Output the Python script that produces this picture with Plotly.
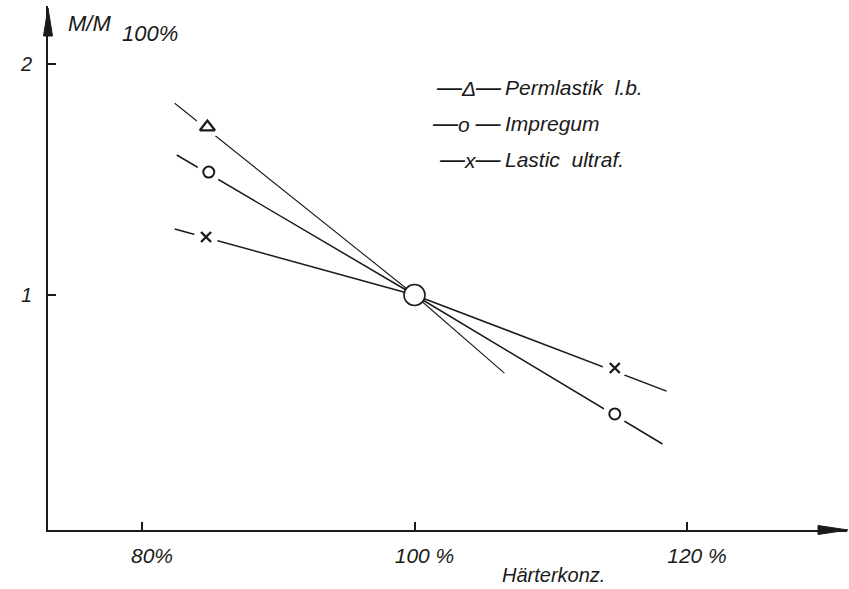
import plotly.graph_objects as go

# --- data -------------------------------------------------------------
# relative modulus M/M100% versus hardener concentration (% of nominal)
perm_x = [82.4, 100.0, 106.6]
perm_y = [1.83, 1.00, 0.662]
perm_mx = [84.8]
perm_my = [1.727]

impr_x = [82.55, 100.0, 118.2]
impr_y = [1.606, 1.00, 0.355]
impr_mx = [84.9, 114.7]
impr_my = [1.532, 0.485]

last_x = [82.4, 100.0, 118.5]
last_y = [1.286, 1.00, 0.584]
last_mx = [84.7, 114.7]
last_my = [1.251, 0.684]

ref_x = [100.0]
ref_y = [1.0]

x_ticks = [80, 100, 120]
x_tick_text = ["80%", "100 %", "120 %"]
y_ticks = [1, 2]
y_tick_text = ["1", "2"]

legend_symbols = ["Δ", "o ", "x"]
legend_names = ["Permlastik  l.b.", "Impregum", "Lastic  ultraf."]

# --- layout geometry ----------------------------------------------------
W, H = 849, 589
L, R, T, B = 48, 2, 6, 59
pw, ph = W - L - R, H - T - B
x_per_px = 20.0 / 272.5          # % per pixel
y_per_px = 1.0 / 231.0           # units per pixel
x_lo = 80 - (142 - L) * x_per_px
x_hi = x_lo + pw * x_per_px
y_lo = 1 - (H - B - 295) * y_per_px
y_hi = y_lo + ph * y_per_px

INK = "#1a1a1a"
FONT = dict(family="Liberation Sans, DejaVu Sans, sans-serif", color=INK, style="italic")


def fx(px):
    return (px - L) / pw


def fy(py):
    return (H - B - py) / ph


fig = go.Figure()

# lines
for xs, ys, w in [(perm_x, perm_y, 1.1), (impr_x, impr_y, 1.5), (last_x, last_y, 1.5)]:
    fig.add_trace(go.Scatter(x=xs, y=ys, mode="lines",
                             line=dict(color=INK, width=w), hoverinfo="skip"))

# white halos leave a gap in the line around each marker
for mx, my in [(perm_mx, perm_my), (impr_mx, impr_my), (last_mx, last_my)]:
    fig.add_trace(go.Scatter(x=mx, y=my, mode="markers",
                             marker=dict(symbol="circle", size=24, color="white",
                                         line=dict(width=0)),
                             hoverinfo="skip"))

fig.add_trace(go.Scatter(x=perm_mx, y=perm_my, mode="markers",
                         marker=dict(symbol="triangle-up-open", size=13,
                                     color=INK, line=dict(width=2.3, color=INK))))
fig.add_trace(go.Scatter(x=impr_mx, y=impr_my, mode="markers",
                         marker=dict(symbol="circle-open", size=11,
                                     color=INK, line=dict(width=2, color=INK))))
fig.add_trace(go.Scatter(x=last_mx, y=last_my, mode="markers",
                         marker=dict(symbol="x-thin-open", size=10,
                                     color=INK, line=dict(width=2.4, color=INK))))

# common reference point
fig.add_trace(go.Scatter(x=ref_x, y=ref_y, mode="markers",
                         marker=dict(symbol="circle", size=21, color="white",
                                     line=dict(width=1.6, color=INK))))

# legend written as text lines: dash-symbol-dash key, then the product name
DASH = "<span style='font-size:25px'>—</span>"
annotations = []
for i, (s, t) in enumerate(zip(legend_symbols, legend_names)):
    yy = fy(87 + 36 * i)
    annotations.append(dict(x=fx(504), y=yy, xref="paper", yref="paper",
                            xanchor="right", yanchor="middle", showarrow=False,
                            text=DASH + s + DASH, font=dict(size=21, **FONT)))
    annotations.append(dict(x=fx(503), y=yy, xref="paper", yref="paper",
                            xanchor="left", yanchor="middle", showarrow=False,
                            text=t, font=dict(size=21, **FONT)))

# y-axis title M/M100%
annotations.append(dict(x=fx(66), y=fy(23), xref="paper", yref="paper",
                        xanchor="left", yanchor="middle", showarrow=False,
                        text="M/M", font=dict(size=22, **FONT)))
annotations.append(dict(x=fx(120), y=fy(34), xref="paper", yref="paper",
                        xanchor="left", yanchor="middle", showarrow=False,
                        text="100%", font=dict(size=22, **FONT)))
# x-axis title
annotations.append(dict(x=fx(553), y=fy(575), xref="paper", yref="paper",
                        xanchor="center", yanchor="middle", showarrow=False,
                        text="Härterkonz.", font=dict(size=20, **FONT)))

# arrow heads on both axes
shapes = [
    dict(type="path", xref="paper", yref="paper",
         path=f"M {fx(818)} {fy(525.5)} L {fx(848)} {fy(530)} L {fx(818)} {fy(534.5)} Z",
         fillcolor=INK, line=dict(color=INK, width=1)),
    dict(type="path", xref="paper", yref="paper",
         path=f"M {fx(43.5)} {fy(36)} L {fx(48)} {fy(8)} L {fx(52.5)} {fy(36)} Z",
         fillcolor=INK, line=dict(color=INK, width=1)),
]

fig.update_layout(
    width=W, height=H,
    margin=dict(l=L, r=R, t=T, b=B),
    paper_bgcolor="white", plot_bgcolor="white",
    showlegend=False,
    annotations=annotations,
    shapes=shapes,
    xaxis=dict(range=[x_lo, x_hi], showgrid=False, zeroline=False,
               showline=True, linecolor=INK, linewidth=1.8,
               ticks="inside", ticklen=8, tickwidth=1.5, tickcolor=INK,
               tickvals=x_ticks, ticktext=x_tick_text,
               ticklabelstandoff=6, ticklabelshift=10,
               tickfont=dict(size=21, **FONT)),
    yaxis=dict(range=[y_lo, y_hi], showgrid=False, zeroline=False,
               showline=True, linecolor=INK, linewidth=1.8,
               ticks="inside", ticklen=8, tickwidth=1.5, tickcolor=INK,
               tickvals=y_ticks, ticktext=y_tick_text,
               ticklabelstandoff=10,
               tickfont=dict(size=20, **FONT)),
)

fig.write_html("out.html")
